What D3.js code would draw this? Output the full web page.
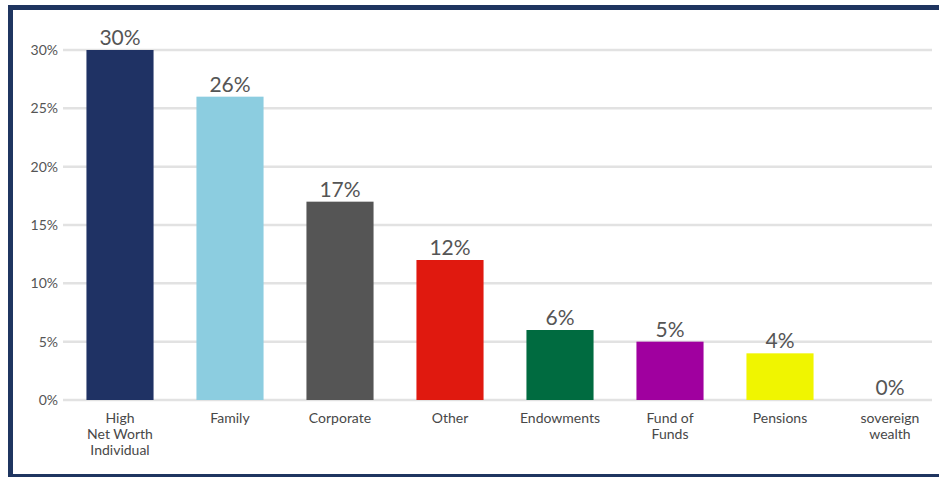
<!DOCTYPE html>
<html>
<head>
<meta charset="utf-8">
<script src="https://cdn.jsdelivr.net/npm/d3@7"></script>
<style>
  html, body { margin: 0; padding: 0; background: #fff; }
  svg { display: block; }
</style>
</head>
<body>
<svg id="chart" width="939" height="477"></svg>
<script>
// Investor categories and their share of commitments (%)
const categories = [
  ["High", "Net Worth", "Individual"],
  ["Family"],
  ["Corporate"],
  ["Other"],
  ["Endowments"],
  ["Fund of", "Funds"],
  ["Pensions"],
  ["sovereign", "wealth"]
];
const shares = [30, 26, 17, 12, 6, 5, 4, 0];
const barColors = ["#1f3264", "#8ccde0", "#555555", "#e0190f", "#006b40", "#a0009f", "#f0f500", "#888888"];
const yTicks = [0, 5, 10, 15, 20, 25, 30];

const svg = d3.select("#chart");
const W = 939, H = 477;
const frameColor = "#1f3560";

// Frame
svg.append("rect").attr("x", 0).attr("y", 0).attr("width", W).attr("height", H).attr("fill", "#fff");
svg.append("rect").attr("x", 8).attr("y", 5).attr("width", W - 8).attr("height", 5).attr("fill", frameColor);
svg.append("rect").attr("x", 8).attr("y", 5).attr("width", 5).attr("height", H - 5).attr("fill", frameColor);
svg.append("rect").attr("x", 8).attr("y", 474).attr("width", W - 8).attr("height", 3).attr("fill", frameColor);

const x = d3.scaleBand()
  .domain(d3.range(categories.length))
  .range([65, 945])
  .paddingInner(0.39)
  .paddingOuter(0.195);

const y = d3.scaleLinear().domain([0, 30]).range([400, 50]);

// Gridlines
svg.append("g").selectAll("line").data(yTicks).join("line")
  .attr("x1", 63).attr("x2", 932)
  .attr("y1", d => y(d)).attr("y2", d => y(d))
  .attr("stroke", "#e2e2e2").attr("stroke-width", 2.5);

// Y axis labels
svg.append("g").selectAll("text").data(yTicks).join("text")
  .attr("x", 58).attr("y", d => y(d)).attr("dy", "0.35em")
  .attr("text-anchor", "end")
  .attr("font-family", "Lato, sans-serif").attr("font-size", 14)
  .attr("fill", "#555")
  .text(d => d + "%");

// Bars
svg.append("g").selectAll("rect").data(shares).join("rect")
  .attr("x", (d, i) => x(i)).attr("width", x.bandwidth())
  .attr("y", d => y(d)).attr("height", d => y(0) - y(d))
  .attr("fill", (d, i) => barColors[i]);

// Value labels
svg.append("g").selectAll("text").data(shares).join("text")
  .attr("x", (d, i) => x(i) + x.bandwidth() / 2)
  .attr("y", d => y(d) - 5)
  .attr("text-anchor", "middle")
  .attr("font-family", "Lato, sans-serif").attr("font-size", 21)
  .attr("fill", "#555")
  .text(d => d + "%");

// Category labels
const cat = svg.append("g").selectAll("text").data(categories).join("text")
  .attr("x", (d, i) => x(i) + x.bandwidth() / 2)
  .attr("y", 423)
  .attr("text-anchor", "middle")
  .attr("font-family", "Lato, sans-serif").attr("font-size", 14)
  .attr("fill", "#484848");
cat.selectAll("tspan").data(d => d).join("tspan")
  .attr("x", function () { return this.parentNode.getAttribute("x"); })
  .attr("dy", (d, j) => j === 0 ? 0 : 16)
  .text(d => d);
</script>
</body>
</html>
